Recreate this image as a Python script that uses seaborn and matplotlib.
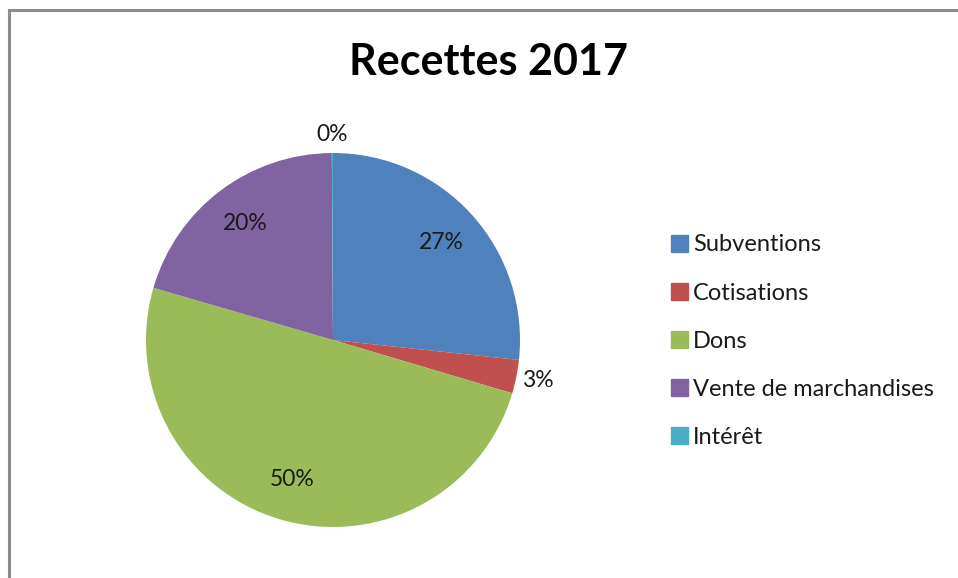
import numpy as np
import matplotlib
matplotlib.use("Agg")
import matplotlib.pyplot as plt
import matplotlib.patches as mpatches
import seaborn as sns

categories = ["Subventions", "Cotisations", "Dons", "Vente de marchandises", "Intérêt"]
values = [26.7, 2.9, 49.9, 20.4, 0.1]
colors = ["#4F81BD", "#C0504D", "#9BBB59", "#8064A2", "#4BACC6"]
title = "Recettes 2017"

sns.set_theme(style="white")
plt.rcParams['font.family'] = ['Lato', 'DejaVu Sans']

fig = plt.figure(figsize=(9.58, 5.78), dpi=100)
W, H = 958, 578
cx, cy, R = 333, 340, 187
ax = fig.add_axes([(cx - R) / W, (H - cy - R) / H, 2 * R / W, 2 * R / H])

wedges, texts, autotexts = ax.pie(
    values, colors=sns.color_palette(colors), startangle=90, counterclock=False,
    autopct=lambda p: f"{p:.0f}%", pctdistance=0.78, radius=1.0,
    wedgeprops=dict(linewidth=0), textprops=dict(fontsize=16.5, color="#1a1a1a"))
ax.set_xlim(-1, 1)
ax.set_ylim(-1, 1)
ax.set_aspect("equal")

total = sum(values)
for w, t, v in zip(wedges, autotexts, values):
    if v / total < 0.05:
        ang = np.deg2rad((w.theta1 + w.theta2) / 2)
        t.set_position((1.1 * np.cos(ang), 1.1 * np.sin(ang)))
        if np.cos(ang) > 0.5:
            t.set_ha("left")
            t.set_position((1.03 * np.cos(ang), 1.1 * np.sin(ang)))

fig.text(488 / W, 1 - 62 / H, title, ha="center", va="center",
         fontsize=31, fontweight="bold", color="black")

handles = [mpatches.Patch(color=c, label=l) for c, l in zip(colors, categories)]
leg = fig.legend(handles=handles, loc="upper left", bbox_to_anchor=(662 / W, 1 - 225 / H),
                 frameon=False, fontsize=17, handlelength=0.72, handleheight=0.72,
                 handletextpad=0.2, labelspacing=1.15, borderaxespad=0)
for t in leg.get_texts():
    t.set_color("#1a1a1a")

# outer chart frame
frame = mpatches.Rectangle((9 / W, -0.1), 1.2, 1 - 10 / H + 0.1, transform=fig.transFigure,
                           fill=False, edgecolor="#8c8c8c", linewidth=2.2)
fig.add_artist(frame)

fig.savefig("out.png", dpi=100)
